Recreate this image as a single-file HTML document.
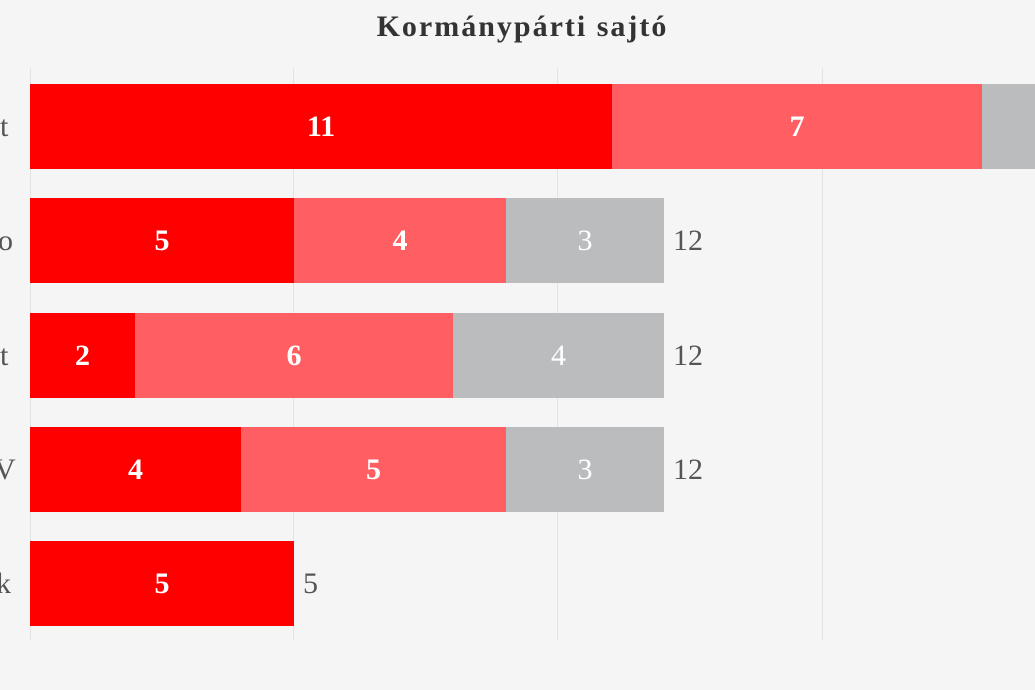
<!DOCTYPE html>
<html><head><meta charset="utf-8"><style>
html,body{margin:0;padding:0;background:#f5f5f5;}
body{width:1035px;height:690px;overflow:hidden;position:relative;font-family:"Liberation Serif",serif;}
.t{position:absolute;top:10px;left:0;width:1045px;text-align:center;font-size:30px;letter-spacing:2px;font-weight:bold;color:#333;}
.g{position:absolute;top:68px;height:572px;width:1px;background:#e3e3e3;}
.b{position:absolute;height:85px;color:#fff;font-size:30px;font-weight:bold;display:flex;align-items:center;justify-content:center;}
.r{background:#ff0000}.l{background:#ff5f62}.y{background:#bbbcbd;font-weight:normal}
.n{position:absolute;font-size:30px;color:#555;height:85px;display:flex;align-items:center;}
</style></head><body>
<div class="t">Kormánypárti sajtó</div>
<div class="g" style="left:30px"></div><div class="g" style="left:293px"></div><div class="g" style="left:557px"></div><div class="g" style="left:822px"></div>

<div class="n" style="left:0;top:84px">t</div>
<div class="b r" style="left:30px;width:582px;top:84px">11</div>
<div class="b l" style="left:612px;width:370px;top:84px">7</div>
<div class="b y" style="left:982px;width:60px;top:84px"></div>

<div class="n" style="left:-2px;top:198px">o</div>
<div class="b r" style="left:30px;width:264px;top:198px">5</div>
<div class="b l" style="left:294px;width:212px;top:198px">4</div>
<div class="b y" style="left:506px;width:158px;top:198px">3</div>
<div class="n" style="left:673px;top:198px">12</div>

<div class="n" style="left:0;top:313px">t</div>
<div class="b r" style="left:30px;width:105px;top:313px">2</div>
<div class="b l" style="left:135px;width:318px;top:313px">6</div>
<div class="b y" style="left:453px;width:211px;top:313px">4</div>
<div class="n" style="left:673px;top:313px">12</div>

<div class="n" style="left:-6px;top:427px">V</div>
<div class="b r" style="left:30px;width:211px;top:427px">4</div>
<div class="b l" style="left:241px;width:265px;top:427px">5</div>
<div class="b y" style="left:506px;width:158px;top:427px">3</div>
<div class="n" style="left:673px;top:427px">12</div>

<div class="n" style="left:-4px;top:541px">k</div>
<div class="b r" style="left:30px;width:264px;top:541px">5</div>
<div class="n" style="left:303px;top:541px">5</div>
</body></html>
